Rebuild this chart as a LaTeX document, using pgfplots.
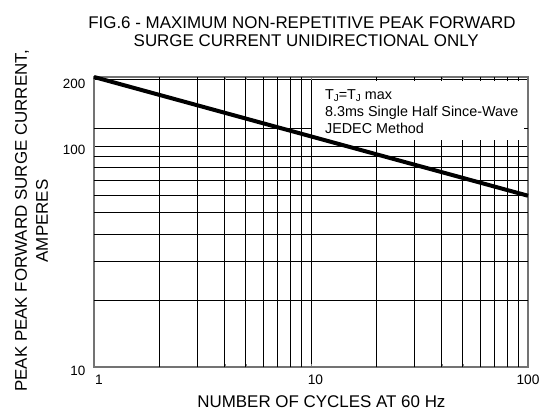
\documentclass[border=0pt]{standalone}
\usepackage{pgfplots}
\pgfplotsset{compat=1.18}
\usepackage{fontspec}
\setmainfont{Liberation Sans}
\begin{document}
\begin{tikzpicture}
\useasboundingbox (-94bp,-47.7bp) rectangle (449bp,367.3bp);
\begin{axis}[
  scale only axis,
  width=434bp, height=290.3bp,
  xmode=log, ymode=log,
  xmin=1, xmax=100, ymin=10, ymax=205,
  xtick={1,10,100},
  xticklabels={\hspace*{10bp}1,\hspace*{9bp}10,100},
  ytick={10,100,200},
  yticklabels={10,100,200},
  minor xtick={}, minor ytick={},
  major tick length=0pt,
  grid=major,
  major grid style={black, line width=0.7bp},
  extra x ticks={2,3,4,5,6,7,8,9,20,30,40,50,60,70,80,90},
  extra x tick labels={},
  extra y ticks={20,30,40,50,60,70,80,90,120},
  extra y tick labels={},
  extra tick style={grid=major, major tick length=0pt},
  axis line style={black!55, line width=1.6bp},
  xticklabel style={font=\fontsize{13.8}{14}\selectfont, anchor=base, yshift=-17.7bp},
  yticklabel style={font=\fontsize{13.5}{14}\selectfont, anchor=east, inner sep=0pt, xshift=-8.5bp, yshift=-4bp},
  clip=false,
]
\fill[white] (rel axis cs:0.5025,0.986) rectangle (rel axis cs:0.9905,0.783);
\addplot[black, line width=4bp, line cap=butt] coordinates {(1,205) (10,110.5) (100,59.6)};
\node[anchor=base west, inner sep=0pt, font=\fontsize{14.4}{16}\selectfont] at (rel axis cs:0.532,0.921) {T\raisebox{-0.15ex}{\fontsize{10}{10}\selectfont J}=T\raisebox{-0.15ex}{\fontsize{10}{10}\selectfont J} max};
\node[anchor=base west, inner sep=0pt, font=\fontsize{14.4}{16}\selectfont] at (rel axis cs:0.532,0.863) {8.3ms Single Half Since-Wave};
\node[anchor=base west, inner sep=0pt, font=\fontsize{14.4}{16}\selectfont] at (rel axis cs:0.532,0.806) {JEDEC Method};
\node[anchor=base, inner sep=0pt, font=\fontsize{17}{20}\selectfont] at (rel axis cs:0.479,1.168) {FIG.6 - MAXIMUM NON-REPETITIVE PEAK FORWARD};
\node[anchor=base, inner sep=0pt, font=\fontsize{17}{20}\selectfont] at (rel axis cs:0.489,1.104) {SURGE CURRENT UNIDIRECTIONAL ONLY};
\node[anchor=base, inner sep=0pt, font=\fontsize{17}{20}\selectfont] at (rel axis cs:0.524,-0.137) {NUMBER OF CYCLES AT 60 Hz};
\node[anchor=base, rotate=90, inner sep=0pt, font=\fontsize{17}{20}\selectfont] at (rel axis cs:-0.1544,0.504) {PEAK PEAK FORWARD SURGE CURRENT,};
\node[anchor=base, rotate=90, inner sep=0pt, font=\fontsize{17}{20}\selectfont] at (rel axis cs:-0.106,0.504) {AMPERES};
\end{axis}
\end{tikzpicture}
\end{document}
